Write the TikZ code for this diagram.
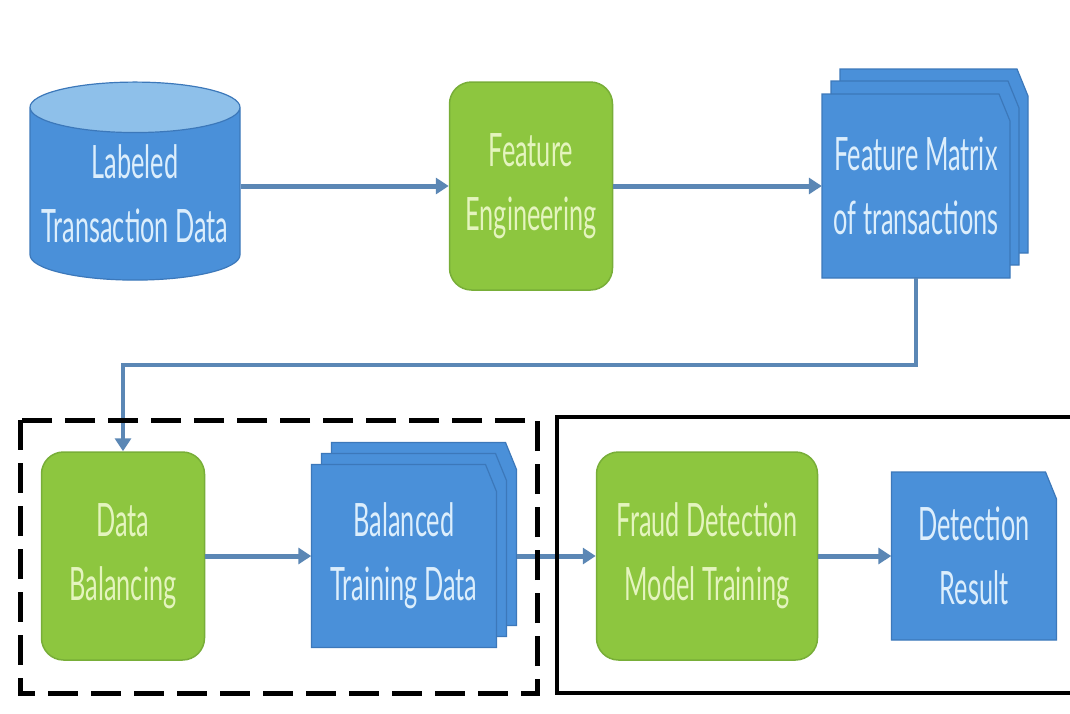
\documentclass[tikz,border=0pt]{standalone}
\usepackage{fontspec}
\setmainfont{Lato}[FakeStretch=0.55]
\usetikzlibrary{shapes.geometric,arrows.meta}

\definecolor{docblue}{HTML}{4A90D9}
\definecolor{docedge}{HTML}{3C78BA}
\definecolor{dbtop}{HTML}{8EC0EA}
\definecolor{procgreen}{HTML}{8DC63F}
\definecolor{procedge}{HTML}{78AE38}
\definecolor{flowblue}{HTML}{5B87B5}
\definecolor{doctext}{HTML}{DCEEFC}
\definecolor{proctext}{HTML}{E4F4BE}

% page with a cut corner: centre x, centre y, width, height
\newcommand{\docpage}[4]{%
  \filldraw[docpage] (#1-#3/2,#2+#4/2) -- (#1-#3/2,#2-#4/2) -- (#1+#3/2-11,#2-#4/2)
    -- (#1+#3/2,#2-#4/2+27) -- (#1+#3/2,#2+#4/2) -- cycle;}

\tikzset{
  label font/.style={font=\fontsize{46}{64}\selectfont, align=center},
  proc/.style={label font, rounded corners=22pt, fill=procgreen, draw=procedge,
    line width=1.5pt, text=proctext, minimum height=208pt, inner sep=0pt},
  doc/.style={label font, rectangle, text=doctext, inner sep=0pt},
  docpage/.style={fill=docblue, draw=docedge, line width=1.2pt},
  flow/.style={-{Triangle[length=13pt,width=16pt]}, line width=5pt, draw=flowblue},
}

\begin{document}
\begin{tikzpicture}[x=1pt,y=-1pt]
\useasboundingbox (0,0) rectangle (1070,713);

% top row
\node[label font, cylinder, shape border rotate=90, aspect=0.27,
  minimum width=210pt, minimum height=198pt, inner sep=0pt,
  cylinder uses custom fill, cylinder body fill=docblue, cylinder end fill=dbtop,
  draw=docedge, line width=1.2pt, text=doctext] (ltd) at (135,194) {Labeled\\Transaction Data};

\node[proc, minimum width=163pt] (fe) at (531,186) {Feature\\Engineering};

\docpage{934}{161}{188}{184}
\docpage{925}{173}{188}{184}
\docpage{916}{186}{188}{184}
\node[doc, minimum width=188pt, minimum height=184pt] (fm) at (916,186) {Feature Matrix\\of transactions};

\draw[flow] (ltd.east |- fe) -- (fe);
\draw[flow] (fe) -- (fm);

% bottom row
\node[proc, minimum width=163pt] (db) at (123,556) {Data\\Balancing};

\docpage{424}{534}{185}{183}
\docpage{414}{545}{185}{183}
\docpage{404}{556}{185}{183}
\node[doc, minimum width=185pt, minimum height=183pt] (bal) at (404,556) {Balanced\\Training Data};
\coordinate (balback) at (516.5,556);

\node[proc, minimum width=221pt] (fdm) at (707,556) {Fraud Detection\\Model Training};

\docpage{974}{556}{165}{168}
\node[doc, minimum width=165pt, minimum height=168pt] (dr) at (974,556) {Detection\\Result};

\draw[flow, line width=3.5pt] (fm.south) -- ++(0,87) -| (db.north);
\draw[flow] (db) -- (bal);
\draw[flow] (balback) -- (fdm);
\draw[flow] (fdm) -- (dr);

% frames
\draw[line width=5pt, dash pattern=on 30pt off 13pt] (20,420) rectangle (537,693);
\draw[line width=4pt] (1072,417) -- (557,417) -- (557,693) -- (1072,693);
\end{tikzpicture}
\end{document}
